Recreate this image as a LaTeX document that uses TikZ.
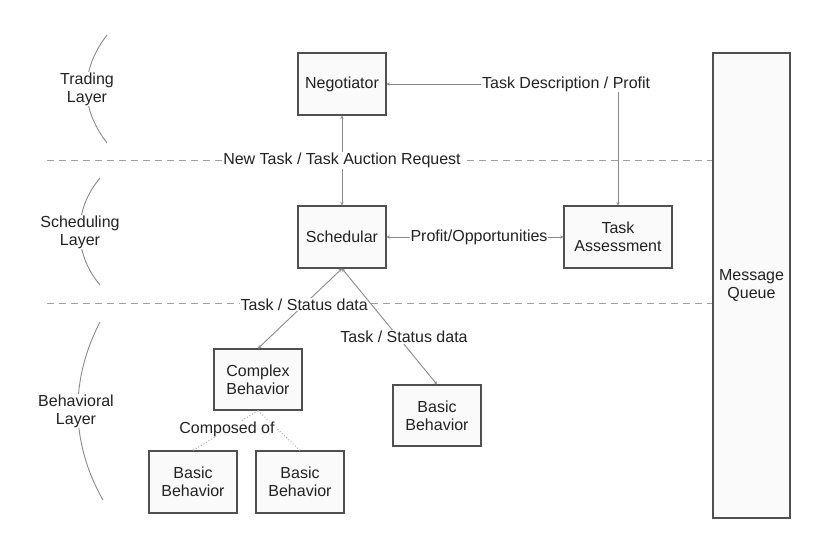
\documentclass[tikz,border=0pt]{standalone}
\usepackage{fontspec}
\setmainfont{Liberation Sans}
\usetikzlibrary{arrows.meta}
\definecolor{boxline}{HTML}{505050}
\definecolor{boxfill}{HTML}{FAFAFA}
\definecolor{conn}{HTML}{8A8A8A}
\definecolor{txt}{HTML}{222222}
\definecolor{dashc}{HTML}{A0A0A0}
\begin{document}
\begin{tikzpicture}[x=1pt,y=-1pt,
  every node/.style={text=txt,font=\fontsize{16}{18}\selectfont},
  box/.style={draw=boxline,fill=boxfill,line width=1.1pt,align=center,inner sep=0pt},
  lbl/.style={fill=white,inner sep=1pt,align=center},
  layer/.style={fill=white,inner sep=1pt,align=center},
  conline/.style={draw=conn,line width=0.9pt},
  tip/.style={{Stealth[length=3.5pt,width=3.5pt]}-{Stealth[length=3.5pt,width=3.5pt]}},
  divider/.style={draw=dashc,line width=1pt,dash pattern=on 7pt off 5pt},
  arcline/.style={draw=conn,line width=0.9pt},
  composed/.style={draw=conn!70,line width=1pt,dotted}]
\useasboundingbox (0,0) rectangle (831,542);
\fill[white] (0,0) rectangle (831,542);

% boxes
\node[box,minimum width=88pt,minimum height=62pt] (neg) at (342,84) {Negotiator};
\node[box,minimum width=88pt,minimum height=62pt] (sch) at (342,237) {Schedular};
\node[box,minimum width=108pt,minimum height=62pt] (ta) at (618,237) {Task\\Assessment};
\node[box,minimum width=77pt,minimum height=465pt] (mq) at (751.5,285.5) {Message\\Queue};
\node[box,minimum width=88pt,minimum height=61pt] (cx) at (258,379.5) {Complex\\Behavior};
\node[box,minimum width=88pt,minimum height=62pt] (bl) at (193,482) {Basic\\Behavior};
\node[box,minimum width=88pt,minimum height=62pt] (bm) at (300,482) {Basic\\Behavior};
\node[box,minimum width=88pt,minimum height=61pt] (br) at (437,415.5) {Basic\\Behavior};

% layer dividers
\coordinate (d1) at (47,160);
\coordinate (d2) at (47,303);
\draw[divider] (d1) -- (d1 -| mq.west);
\draw[divider] (d2) -- (d2 -| mq.west);

% layer arcs
\draw[arcline] (107,35) .. controls (80,70) and (80,108) .. (107,143);
\draw[arcline] (100,178) .. controls (73,210) and (73,253) .. (100,285);
\draw[arcline] (100,322) .. controls (70,380) and (70,442) .. (103,500);
\node[layer] (tl) at (87,89) {Trading\\Layer};
\node[layer] (sl) at (80,232) {Scheduling\\Layer};
\node[layer] (bhl) at (76,411) {Behavioral\\Layer};

% connectors
\draw[conline,tip] (neg.south) -- node[lbl] {New Task / Task Auction Request} (sch.north);
\draw[conline,tip] (ta.north) |- node[lbl,pos=0.612] {Task Description / Profit} (neg.east);
\draw[conline,tip] (sch.east) -- node[lbl,xshift=4pt] {Profit/Opportunities} (ta.west);
\draw[conline,tip] (sch.south) -- node[lbl,pos=0.45] {Task / Status data} (cx.north);
\draw[conline,tip] (sch.south) -- node[lbl,pos=0.59,xshift=6pt] {Task / Status data} (br.north);

% composition
\draw[composed] (cx.south) -- (bl.north);
\draw[composed] (cx.south) -- (bm.north);
\node[lbl] (comp) at (227,429) {Composed of};
\end{tikzpicture}
\end{document}
